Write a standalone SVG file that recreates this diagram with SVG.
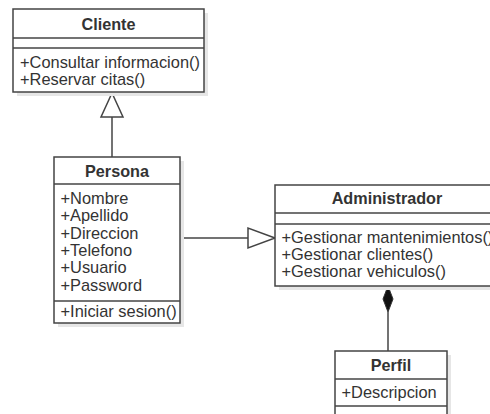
<svg xmlns="http://www.w3.org/2000/svg" width="490" height="414" viewBox="0 0 490 414">
  <style>
    .shadow { fill: #e6e6e6; }
    .box { fill: #ffffff; stroke: #444444; stroke-width: 1.5; }
    .sep { stroke: #444444; stroke-width: 1.5; fill: none; }
    .title { font-family: "Liberation Sans", Arial, sans-serif; font-size: 16.2px; font-weight: bold; fill: #333333; text-anchor: middle; }
    .member { font-family: "Liberation Sans", Arial, sans-serif; font-size: 16.4px; fill: #333333; }
    .edge { stroke: #444444; stroke-width: 1.5; fill: none; }
    .hollow { fill: #ffffff; stroke: #444444; stroke-width: 1.5; }
    .solid { fill: #111111; stroke: #333333; stroke-width: 1; }
  </style>
  <rect width="490" height="414" fill="#ffffff"/>

  <!-- connectors -->
  <g id="connectors">
    <!-- Persona generalizes Cliente -->
    <line class="edge" x1="112" y1="157" x2="112" y2="117"/>
    <polygon class="hollow" points="112,93 101,117 123,117"/>
    <!-- Persona generalizes Administrador -->
    <line class="edge" x1="180" y1="238" x2="248" y2="238"/>
    <polygon class="hollow" points="275,238 248,228 248,248"/>
    <!-- Administrador composed of Perfil -->
    <line class="edge" x1="388" y1="312" x2="388" y2="351"/>
    <polygon class="solid" points="388,286 393,299 388,312 383,299"/>
  </g>

  <!-- Cliente -->
  <g id="cliente">
    <rect class="shadow" x="17" y="13" width="191" height="83"/>
    <rect class="box" x="13" y="9" width="191" height="83"/>
    <line class="sep" x1="13" y1="38" x2="204" y2="38"/>
    <line class="sep" x1="13" y1="48" x2="204" y2="48"/>
    <text class="title" x="108.5" y="30">Cliente</text>
    <text class="member" x="20" y="67.5">+Consultar informacion()</text>
    <text class="member" x="20" y="85">+Reservar citas()</text>
  </g>

  <!-- Persona -->
  <g id="persona">
    <rect class="shadow" x="58" y="161" width="126" height="166"/>
    <rect class="box" x="54" y="157" width="126" height="166"/>
    <line class="sep" x1="54" y1="184" x2="180" y2="184"/>
    <line class="sep" x1="54" y1="301" x2="180" y2="301"/>
    <text class="title" x="117" y="177">Persona</text>
    <text class="member" x="60.5" y="204">+Nombre</text>
    <text class="member" x="60.5" y="221.3">+Apellido</text>
    <text class="member" x="60.5" y="238.6">+Direccion</text>
    <text class="member" x="60.5" y="255.9">+Telefono</text>
    <text class="member" x="60.5" y="273.2">+Usuario</text>
    <text class="member" x="60.5" y="290.5">+Password</text>
    <text class="member" x="60.5" y="317">+Iniciar sesion()</text>
  </g>

  <!-- Administrador -->
  <g id="administrador">
    <rect class="shadow" x="279" y="189" width="224" height="101"/>
    <rect class="box" x="275" y="185" width="224" height="101"/>
    <line class="sep" x1="275" y1="213" x2="499" y2="213"/>
    <line class="sep" x1="275" y1="224" x2="499" y2="224"/>
    <text class="title" x="387" y="204">Administrador</text>
    <text class="member" x="281.5" y="243">+Gestionar mantenimientos()</text>
    <text class="member" x="281.5" y="260">+Gestionar clientes()</text>
    <text class="member" x="281.5" y="276.5">+Gestionar vehiculos()</text>
  </g>

  <!-- Perfil -->
  <g id="perfil">
    <rect class="shadow" x="339" y="355" width="112" height="70"/>
    <rect class="box" x="335" y="351" width="112" height="70"/>
    <line class="sep" x1="335" y1="379" x2="447" y2="379"/>
    <line class="sep" x1="335" y1="406" x2="447" y2="406"/>
    <text class="title" x="391" y="371">Perfil</text>
    <text class="member" x="341.5" y="398">+Descripcion</text>
  </g>
</svg>
